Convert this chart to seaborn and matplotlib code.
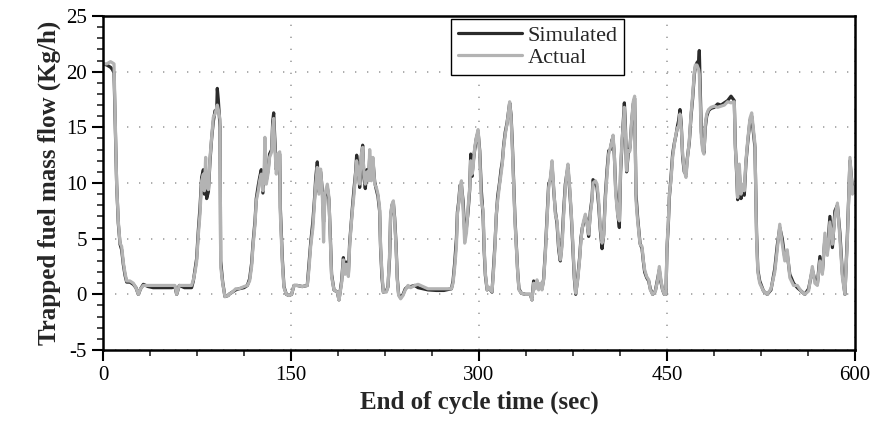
import matplotlib
matplotlib.use("Agg")
import matplotlib.pyplot as plt
from matplotlib.ticker import MultipleLocator
import pandas as pd
import seaborn as sns

# end of cycle time (sec)
time_s = [
    0, 3, 6, 7.5, 8.8, 9.6, 10.9, 12.2, 13.6, 14.9,
    16.2, 17.6, 18.9, 21.5, 24.2, 26.3, 28.2, 30.0, 32.2, 36,
    40, 45, 50, 55, 57.4, 58.8, 60.9, 65, 70.7, 72.1,
    73.4, 74.7, 76.1, 77.4, 78.7, 80.1, 80.9, 81.9, 82.7, 84.1,
    85.4, 86.7, 88.0, 89.4, 90.7, 91.2, 92.0, 93.4, 93.9, 95.5,
    97.3, 100.0, 100.5, 103.2, 105.9, 108.5, 112.5, 115.2, 117.0, 118.6,
    119.7, 121.3, 122.3, 123.9, 125.0, 126.3, 127.6, 128.7, 129.2, 130.3,
    131.9, 132.9, 134.6, 135.4, 136.2, 137.0, 138.3, 139.6, 141.0, 141.5,
    143.1, 144.4, 146.3, 148.4, 150.5, 152.4, 155.0, 159.0, 163.0, 164.3,
    165.7, 167.5, 168.9, 169.7, 171.0, 172.3, 173.7, 175.0, 176.0, 177.1,
    179.0, 180.3, 181.4, 182.4, 184.3, 187.0, 188.3, 190.4, 191.8, 193.1,
    194.2, 195.8, 196.8, 197.9, 199.0, 200.3, 201.6, 202.4, 203.7, 204.8,
    206.1, 207.2, 208.2, 209.3, 210.6, 212.0, 212.8, 214.1, 215.4, 216.8,
    218.1, 219.4, 220.7, 221.5, 222.6, 223.7, 226.1, 227.4, 228.7, 229.5,
    230.6, 231.7, 232.7, 233.8, 234.8, 235.9, 237.5, 239.4, 241.2, 243.4,
    245.5, 248.7, 251.4, 255.3, 259.3, 266.0, 272.0, 278.0, 279.3, 280.6,
    282.0, 282.8, 283.8, 284.9, 286.0, 287.3, 288.6, 290.0, 291.3, 292.6,
    293.4, 294.5, 295.3, 296.6, 297.9, 299.3, 300.6, 301.9, 303.3, 304.1,
    305.1, 306.5, 307.8, 309.1, 310.4, 311.7, 312.8, 313.8, 314.9, 316.5,
    317.6, 318.6, 319.7, 321.0, 322.4, 323.7, 324.5, 325.6, 326.6, 327.7,
    328.7, 329.8, 330.9, 331.9, 333.8, 337.0, 341.0, 342.3, 343.6, 345.0,
    346.3, 347.6, 349.0, 350.3, 351.6, 353.0, 354.3, 355.6, 357.0, 358.3,
    359.6, 360.9, 362.3, 363.6, 364.9, 366.3, 367.6, 368.9, 370.2, 371.0,
    372.4, 373.7, 375.0, 376.1, 377.2, 378.8, 380.3, 381.4, 382.5, 383.5,
    384.9, 386.2, 387.5, 388.9, 390.2, 391.0, 392.9, 394.2, 395.5, 396.8,
    398.2, 399.5, 400.8, 402.2, 403.5, 404.8, 406.2, 407.0, 408.0, 409.1,
    410.6, 412.0, 413.0, 414.1, 415.2, 416.0, 416.8, 417.8, 419.1, 420.5,
    421.8, 423.1, 424.2, 424.7, 425.3, 426.6, 428.5, 430.1, 431.1, 432.2,
    433.8, 435.4, 436.7, 438.6, 440.7, 442.6, 443.9, 445.2, 446.5, 447.9,
    449.2, 450.0, 451.1, 451.9, 453.2, 454.5, 455.9, 457.2, 458.5, 459.3,
    460.4, 461.4, 462.5, 463.8, 465.2, 466.2, 467.8, 469.2, 470.5, 471.8,
    472.6, 473.9, 475.3, 475.8, 476.3, 477.4, 478.5, 479.5, 480.6, 481.7,
    483.2, 485.1, 487.8, 490.4, 493.1, 495.8, 498.4, 501.1, 503.7, 504.5,
    505.6, 506.4, 507.7, 509.1, 510.4, 511.7, 513.0, 514.4, 516.2, 517.6,
    520.2, 521.5, 522.5, 524, 527, 530, 533, 536, 538, 540,
    542, 544, 546, 548, 551, 554, 557, 560, 563, 566,
    568, 570, 572, 574, 576, 578, 580, 582, 584, 586,
    588, 590, 592, 594, 596, 598, 600,
]

actual = [
    20.7, 20.7, 20.9, 20.8, 20.7, 16.5, 9.9, 6.6, 4.6, 4.3,
    2.9, 1.9, 1.2, 1.2, 1.0, 0.6, 0.0, 0.5, 0.8, 0.8,
    0.8, 0.8, 0.8, 0.8, 0.8, 0.0, 0.8, 0.8, 0.8, 1.3,
    2.0, 2.9, 5.4, 7.2, 10.2, 10.8, 9.3, 12.3, 9.7, 9.4,
    12.3, 14.1, 15.9, 16.2, 16.8, 17.0, 16.6, 15.7, 2.5, 1.0,
    -0.2, -0.1, 0.0, 0.2, 0.5, 0.5, 0.7, 0.8, 1.2, 2.5,
    4.3, 6.3, 8.4, 9.3, 10.2, 10.8, 9.3, 11.7, 14.1, 9.9,
    11.0, 12.3, 12.8, 15.0, 15.8, 13.5, 10.8, 12.6, 12.8, 7.2,
    2.8, 0.6, 0.0, -0.1, 0.0, 0.8, 0.8, 0.7, 0.8, 2.2,
    4.3, 6.0, 8.4, 9.9, 11.4, 9.0, 11.25, 9.0, 4.7, 9.0,
    9.9, 8.7, 4.8, 1.6, 0.4, 0.2, -0.5, 1.0, 3.1, 1.8,
    2.7, 1.6, 4.3, 6.0, 7.5, 9.0, 10.8, 12.0, 11.0, 9.9,
    12.6, 13.2, 10.8, 9.9, 11.0, 10.2, 13.0, 10.2, 12.3, 9.9,
    9.6, 9.0, 7.8, 4.3, 1.9, 0.2, 0.2, 0.65, 3.7, 7.2,
    8.1, 8.4, 6.6, 4.3, 1.3, -0.1, -0.4, -0.1, 0.4, 0.8,
    0.6, 0.8, 0.9, 0.7, 0.5, 0.5, 0.5, 0.5, 1.0, 2.4,
    4.3, 7.2, 8.1, 9.6, 10.2, 7.8, 4.6, 5.5, 7.8, 9.6,
    12.0, 10.8, 11.4, 13.2, 14.1, 14.8, 12.6, 8.4, 7.5, 4.3,
    1.9, 0.4, 0.65, 0.4, 0.25, 2.2, 4.3, 7.2, 8.4, 9.9,
    10.8, 11.7, 13.2, 14.4, 15.3, 16.5, 17.3, 15.9, 13.2, 9.6,
    6.6, 4.3, 1.9, 0.4, 0.1, 0.0, 0.0, -0.5, 1.0, 0.5,
    1.3, 0.4, 1.0, 0.4, 1.3, 3.7, 6.6, 9.6, 10.5, 12.0,
    9.6, 7.2, 6.6, 4.3, 3.1, 4.3, 7.2, 9.6, 11.1, 11.7,
    9.6, 7.2, 4.3, 1.6, 0.1, 1.3, 3.1, 4.9, 6.0, 6.6,
    7.2, 6.3, 5.4, 7.2, 8.4, 10.0, 10.2, 9.9, 8.4, 6.0,
    4.6, 5.2, 8.4, 10.8, 12.6, 13.2, 13.8, 14.3, 12.6, 9.0,
    7.2, 6.6, 11.4, 13.8, 15.3, 16.8, 14.7, 11.1, 12.9, 12.9,
    15.6, 17.3, 17.8, 13.2, 8.4, 6.6, 4.5, 4.3, 3.1, 2.2,
    1.6, 1.3, 0.4, 0.0, 0.25, 1.3, 2.5, 1.3, 0.4, 0.0,
    0.0, 4.3, 6.6, 9.0, 10.2, 12.3, 13.5, 14.4, 15.0, 15.0,
    16.2, 15.0, 12.6, 11.1, 10.5, 12.0, 13.8, 16.2, 17.9, 19.9,
    20.6, 20.6, 20.2, 19.8, 18.2, 14.1, 12.9, 12.6, 15.3, 16.2,
    16.6, 16.8, 16.9, 16.8, 16.9, 17.0, 17.3, 17.2, 17.3, 13.2,
    11.1, 8.7, 11.7, 9.0, 9.9, 9.3, 12.0, 13.8, 15.8, 16.3,
    13.5, 5.0, 2.0, 1.0, 0.3, 0.0, 0.5, 2.0, 4.0, 6.3,
    4.5, 3.0, 4.0, 1.5, 0.8, 0.8, 0.3, 0.0, 0.3, 2.5,
    1.0, 0.8, 3.0, 1.8, 5.5, 3.5, 6.5, 4.5, 7.0, 8.2,
    5.0, 1.5, 0.0, 5.0, 12.3, 9.0, 9.7,
]

simulated = [
    20.7, 20.6, 20.4, 20.2, 19.9, 16.0, 9.9, 6.4, 4.5, 4.0,
    2.7, 1.7, 1.1, 1.1, 0.9, 0.6, 0.0, 0.5, 0.9, 0.7,
    0.6, 0.6, 0.6, 0.6, 0.7, 0.0, 0.8, 0.6, 0.6, 1.2,
    2.2, 3.2, 5.8, 7.8, 10.5, 11.2, 9.0, 11.0, 8.6, 9.2,
    12.0, 14.0, 15.5, 16.5, 16.5, 18.5, 17.5, 15.0, 3.0, 1.1,
    -0.2, -0.1, 0.0, 0.2, 0.4, 0.5, 0.6, 0.8, 1.4, 2.8,
    4.6, 6.6, 8.6, 9.8, 10.5, 11.2, 9.1, 10.8, 11.5, 10.2,
    11.3, 12.6, 13.0, 15.5, 16.3, 14.2, 11.2, 12.4, 12.6, 7.8,
    3.2, 0.7, 0.0, -0.1, 0.0, 0.8, 0.8, 0.7, 0.8, 2.6,
    4.6, 6.6, 8.8, 10.4, 11.9, 9.2, 11.0, 9.3, 6.5, 8.8,
    9.6, 8.5, 5.2, 1.8, 0.4, 0.2, -0.5, 1.2, 3.3, 2.2,
    2.9, 1.8, 4.6, 6.2, 7.8, 9.5, 11.0, 12.5, 11.4, 9.6,
    12.3, 13.4, 10.5, 9.5, 11.2, 10.4, 12.4, 10.4, 12.0, 10.1,
    9.4, 8.8, 7.5, 4.1, 1.5, 0.2, 0.3, 0.7, 3.3, 7.0,
    8.0, 8.2, 6.9, 4.6, 1.5, 0.0, -0.3, 0.0, 0.5, 0.7,
    0.7, 0.8, 0.6, 0.5, 0.4, 0.35, 0.35, 0.5, 1.2, 2.8,
    5.0, 7.4, 8.3, 9.8, 9.8, 8.4, 5.6, 6.0, 7.4, 9.4,
    12.6, 10.6, 11.8, 13.0, 14.0, 14.6, 12.9, 9.3, 7.0, 4.0,
    1.7, 0.4, 0.6, 0.4, 0.2, 2.5, 4.6, 7.0, 8.8, 10.1,
    11.2, 11.9, 13.4, 14.6, 15.4, 16.5, 17.2, 16.1, 13.6, 10.0,
    6.9, 4.5, 2.0, 0.5, 0.1, 0.0, 0.0, -0.5, 1.2, 0.6,
    1.1, 0.5, 0.8, 0.5, 1.4, 4.0, 7.0, 9.9, 10.3, 11.6,
    9.4, 7.5, 6.3, 4.0, 3.0, 4.8, 7.6, 9.9, 10.9, 11.4,
    9.3, 7.0, 4.0, 1.4, 0.0, 1.5, 3.3, 5.1, 6.0, 6.4,
    7.0, 6.6, 5.2, 7.5, 8.6, 10.3, 10.0, 9.6, 8.0, 5.8,
    4.1, 5.4, 8.8, 11.2, 12.9, 13.0, 13.9, 14.0, 12.5, 9.4,
    7.4, 6.0, 11.0, 13.5, 15.6, 17.2, 15.3, 11.0, 12.6, 13.2,
    15.4, 17.1, 17.6, 13.5, 9.0, 6.9, 4.6, 4.1, 3.0, 2.0,
    1.5, 1.2, 0.5, 0.0, 0.3, 1.4, 2.2, 1.1, 0.4, 0.0,
    0.0, 4.1, 6.3, 8.7, 10.5, 12.6, 13.6, 14.3, 15.2, 15.6,
    16.6, 15.3, 12.3, 11.0, 10.8, 12.2, 13.6, 16.0, 17.6, 19.7,
    20.4, 20.8, 21.0, 21.9, 19.5, 14.6, 13.2, 12.7, 15.0, 16.0,
    16.5, 16.7, 16.8, 17.1, 17.0, 17.2, 17.4, 17.8, 17.4, 13.5,
    10.8, 8.5, 11.0, 8.6, 9.5, 8.9, 11.8, 13.6, 15.6, 16.0,
    13.2, 5.5, 2.2, 1.2, 0.3, 0.0, 0.4, 2.3, 4.4, 6.0,
    5.0, 3.3, 3.6, 1.8, 1.0, 0.6, 0.3, 0.0, 0.5, 2.2,
    1.3, 0.9, 3.4, 2.0, 5.0, 3.8, 7.0, 4.2, 7.5, 8.0,
    5.5, 1.8, 0.0, 5.5, 12.0, 9.5, 9.5,
]

series_names = ['Simulated', 'Actual']
series_colors = {'Simulated': '#2b2b2b', 'Actual': '#b3b3b3'}

n = len(time_s)
df = pd.DataFrame({
    'time': time_s + time_s,
    'flow': simulated + actual,
    'series': ['Simulated'] * n + ['Actual'] * n,
})

sns.set_style('ticks')
plt.rcParams['font.family'] = ['Liberation Serif', 'DejaVu Serif']
plt.rcParams['axes.unicode_minus'] = False

fig = plt.figure(figsize=(8.75, 4.28), dpi=100)
ax = fig.add_axes([0.1177, 0.1822, 0.8594, 0.7804])

sns.lineplot(data=df, x='time', y='flow', hue='series', hue_order=series_names,
             palette=series_colors, estimator=None, sort=False, linewidth=2.3, ax=ax)

ax.set_xlim(0, 600)
ax.set_ylim(-5, 25)
ax.xaxis.set_major_locator(MultipleLocator(150))
ax.xaxis.set_minor_locator(MultipleLocator(37.5))
ax.yaxis.set_major_locator(MultipleLocator(5))
ax.yaxis.set_minor_locator(MultipleLocator(1))
ax.tick_params(which='major', direction='out', length=8, width=1.5, labelsize=15, colors='black')
ax.tick_params(which='minor', direction='out', length=4, width=1.2)

for sp in ax.spines.values():
    sp.set_visible(True)
    sp.set_linewidth(1.8)
    sp.set_color('black')

ax.set_axisbelow(True)
ax.grid(True, which='major', color='#a0a0a0', linestyle=(0, (0.8, 6.4)), linewidth=1.2)

ax.set_xlabel('End of cycle time (sec)', fontsize=18, fontweight='bold')
ax.set_ylabel('Trapped fuel mass flow (Kg/h)', fontsize=18, fontweight='bold')

leg = ax.legend(title=None, loc='upper left', bbox_to_anchor=(0.463, 0.991), frameon=True,
                fancybox=False, edgecolor='black', framealpha=1, fontsize=16,
                handlelength=2.9, handletextpad=0.25, borderpad=0.3, labelspacing=0.05,
                borderaxespad=0)
leg.get_frame().set_linewidth(1.0)

fig.savefig('out.png', dpi=100)
